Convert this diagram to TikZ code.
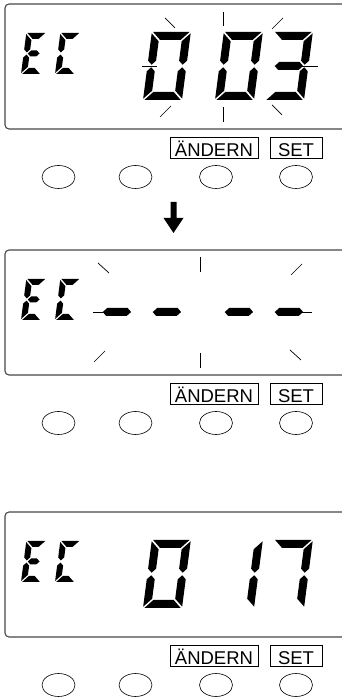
\documentclass[tikz,border=0pt]{standalone}
\usepackage{fontspec}
\setmainfont{Liberation Sans}
\usetikzlibrary{shapes.geometric}

\newcommand\setdig[4]{\def\dW{#1}\def\dH{#2}\def\dt{#3}\pgfmathsetmacro\dh{#3/2}\pgfmathsetmacro\dM{#2/2}\def\dg{#4}}
\newcommand\lcdsega{\fill (\dg,\dH) -- (\dW-\dg,\dH) -- (\dW-\dt-\dg,\dH-\dt) -- (\dt+\dg,\dH-\dt) -- cycle;}
\newcommand\lcdsegd{\fill (\dg,0) -- (\dW-\dg,0) -- (\dW-\dt-\dg,\dt) -- (\dt+\dg,\dt) -- cycle;}
\newcommand\lcdsegf{\fill (0,\dH-\dg) -- (\dt,\dH-\dt-\dg) -- (\dt,\dM+\dh+\dg) -- (\dh,\dM+\dg) -- (0,\dM+\dh+\dg) -- cycle;}
\newcommand\lcdsege{\fill (0,\dg) -- (\dt,\dt+\dg) -- (\dt,\dM-\dh-\dg) -- (\dh,\dM-\dg) -- (0,\dM-\dh-\dg) -- cycle;}
\newcommand\lcdsegb{\fill (\dW,\dH-\dg) -- (\dW-\dt,\dH-\dt-\dg) -- (\dW-\dt,\dM+\dh+\dg) -- (\dW-\dh,\dM+\dg) -- (\dW,\dM+\dh+\dg) -- cycle;}
\newcommand\lcdsegc{\fill (\dW,\dg) -- (\dW-\dt,\dt+\dg) -- (\dW-\dt,\dM-\dh-\dg) -- (\dW-\dh,\dM-\dg) -- (\dW,\dM-\dh-\dg) -- cycle;}
\newcommand\lcdsegg{\fill (\dh+\dg,\dM) -- (\dt+\dg,\dM+\dh) -- (\dW-\dt-\dg,\dM+\dh) -- (\dW-\dh-\dg,\dM) -- (\dW-\dt-\dg,\dM-\dh) -- (\dt+\dg,\dM-\dh) -- cycle;}
\newcommand\lcddigit[3]{\begin{scope}[shift={(#1,#2)},xslant=0.13]\foreach \s in {#3}{\csname lcdseg\s\endcsname}\end{scope}}

\begin{document}
\begin{tikzpicture}[x=1pt,y=1pt,
  panel/.style={draw=black!72,line width=1.1pt,rounded corners=4pt},
  lbl/.style={draw=black,line width=0.7pt,inner sep=0pt,minimum height=21pt,
    text height=17.5pt,text depth=0pt,font=\fontsize{18.5}{18.5}\selectfont},
  btn/.style={ellipse,draw=black,line width=0.6pt,minimum width=33pt,minimum height=23pt,inner sep=0pt},
  ray/.style={line width=0.7pt}]
\useasboundingbox (0,0) rectangle (342,699);
\clip (0,0) rectangle (342,699);

% ---------- panel 1 ----------
\draw[panel] (5,570) rectangle (380,695);
\setdig{20}{41}{6}{1.1}
\lcddigit{21}{625}{a,d,e,f,g}
\lcddigit{55}{625}{a,d,e,f}
\setdig{39}{68}{8}{1.3}
\lcddigit{143}{599}{a,b,c,d,e,f}
\lcddigit{215}{599}{a,b,c,d,e,f}
\lcddigit{265}{599}{a,b,c,d,g}
\draw[ray] (165,681) -- (175,671);
\draw[ray] (223,687) -- (223,673);
\draw[ray] (272,670) -- (283,681);
\draw[ray] (142,633) -- (157,633);
\draw[ray] (302,633) -- (318,633);
\draw[ray] (160,582) -- (171,593);
\draw[ray] (223,592) -- (223,577);
\draw[ray] (272,594) -- (282,584);
\node[lbl,minimum width=88pt] (aend1) at (214,551.5) {ÄNDERN};
\node[lbl,minimum width=52pt] (set1) at (296,551.5) {SET};
\node[btn] (b11) at (58.5,522) {};
\node[btn] (b12) at (135.5,522) {};
\node[btn] (b13) at (216,522) {};
\node[btn] (b14) at (296,522) {};

% arrow
\fill (170.5,497) -- (176.5,497) -- (176.5,481) -- (183.5,481) -- (173.5,466) -- (163.5,481) -- (170.5,481) -- cycle;

% ---------- panel 2 ----------
\draw[panel] (5,324) rectangle (380,449);
\setdig{20}{41}{6}{1.1}
\lcddigit{21}{379}{a,d,e,f,g}
\lcddigit{55}{379}{a,d,e,f}
\setdig{39}{68}{8}{1.3}
\lcddigit{93}{353}{g}
\lcddigit{143}{353}{g}
\lcddigit{215}{353}{g}
\lcddigit{265}{353}{g}
\draw[ray] (98,436) -- (109,426);
\draw[ray] (200,442) -- (200,427);
\draw[ray] (291,424) -- (302,435);
\draw[ray] (93,387) -- (103,387);
\draw[ray] (302,387) -- (312,387);
\draw[ray] (94,337) -- (105,348);
\draw[ray] (200,346) -- (200,331);
\draw[ray] (290,349) -- (301,339);
\node[lbl,minimum width=88pt] (aend2) at (214,305.5) {ÄNDERN};
\node[lbl,minimum width=52pt] (set2) at (296,305.5) {SET};
\node[btn] (b21) at (58.5,276) {};
\node[btn] (b22) at (135.5,276) {};
\node[btn] (b23) at (216,276) {};
\node[btn] (b24) at (296,276) {};

% ---------- panel 3 ----------
\draw[panel] (5,62) rectangle (380,187);
\setdig{20}{41}{6}{1.1}
\lcddigit{21}{117}{a,d,e,f,g}
\lcddigit{55}{117}{a,d,e,f}
\setdig{39}{68}{8}{1.3}
\lcddigit{143}{91}{a,b,c,d,e,f}
\lcddigit{215}{91}{b,c}
\lcddigit{265}{91}{a,b,c}
\node[lbl,minimum width=88pt] (aend3) at (214,43.5) {ÄNDERN};
\node[lbl,minimum width=52pt] (set3) at (296,43.5) {SET};
\node[btn] (b31) at (58.5,14) {};
\node[btn] (b32) at (135.5,14) {};
\node[btn] (b33) at (216,14) {};
\node[btn] (b34) at (296,14) {};
\end{tikzpicture}
\end{document}
